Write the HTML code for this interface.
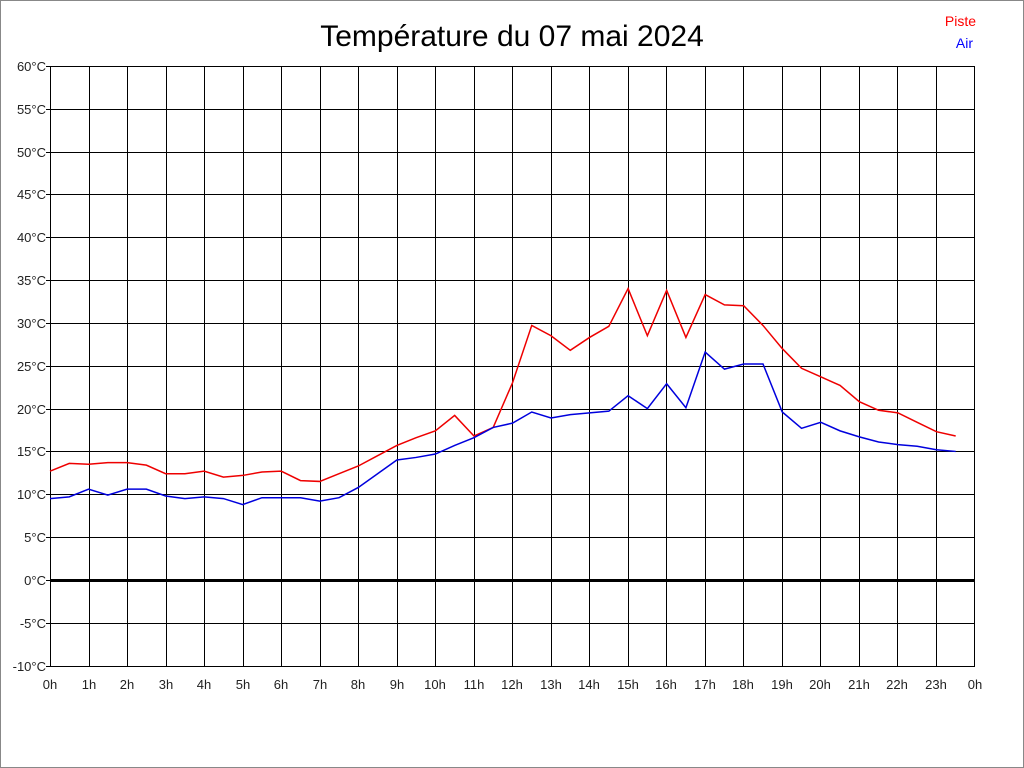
<!DOCTYPE html>
<html><head><meta charset="utf-8"><style>
html,body{margin:0;padding:0;background:#fff}
svg{display:block}
text{font-family:"Liberation Sans",Arial,sans-serif}
</style></head><body>
<svg width="1024" height="768" xmlns="http://www.w3.org/2000/svg">
<rect x="0.5" y="0.5" width="1023" height="767" fill="#fff" stroke="#888"/>
<text x="512" y="46" font-size="30" text-anchor="middle">Température du 07 mai 2024</text>
<text x="976" y="26" font-size="14" fill="#f00" text-anchor="end">Piste</text>
<text x="973" y="48" font-size="14" fill="#00f" text-anchor="end">Air</text>
<g stroke="#000" stroke-width="1" shape-rendering="crispEdges">
<rect x="50.5" y="66.5" width="924" height="600" fill="none"/>
<path d="M50 66.5H975M50 109.5H975M50 152.5H975M50 194.5H975M50 237.5H975M50 280.5H975M50 323.5H975M50 366.5H975M50 409.5H975M50 451.5H975M50 494.5H975M50 537.5H975M50 623.5H975"/>
<path d="M89.5 66V666M127.5 66V666M166.5 66V666M204.5 66V666M243.5 66V666M281.5 66V666M320.5 66V666M358.5 66V666M397.5 66V666M435.5 66V666M474.5 66V666M512.5 66V666M551.5 66V666M589.5 66V666M628.5 66V666M666.5 66V666M705.5 66V666M743.5 66V666M782.5 66V666M820.5 66V666M859.5 66V666M897.5 66V666M936.5 66V666M974.5 66V666"/>
<path d="M46 66.5H50M46 109.5H50M46 152.5H50M46 194.5H50M46 237.5H50M46 280.5H50M46 323.5H50M46 366.5H50M46 409.5H50M46 451.5H50M46 494.5H50M46 537.5H50M46 580.5H50M46 623.5H50M46 666.5H50"/>
</g>
<rect x="50" y="579" width="925" height="3" fill="#000"/>
<g font-size="13" text-anchor="end" fill="#222">
<text x="46" y="71">60°C</text><text x="46" y="114">55°C</text><text x="46" y="157">50°C</text><text x="46" y="199">45°C</text><text x="46" y="242">40°C</text><text x="46" y="285">35°C</text><text x="46" y="328">30°C</text><text x="46" y="371">25°C</text><text x="46" y="414">20°C</text><text x="46" y="456">15°C</text><text x="46" y="499">10°C</text><text x="46" y="542">5°C</text><text x="46" y="585">0°C</text><text x="46" y="628">-5°C</text><text x="46" y="671">-10°C</text>
</g>
<g font-size="13" text-anchor="middle" fill="#222">
<text x="50" y="689">0h</text><text x="89" y="689">1h</text><text x="127" y="689">2h</text><text x="166" y="689">3h</text><text x="204" y="689">4h</text><text x="243" y="689">5h</text><text x="281" y="689">6h</text><text x="320" y="689">7h</text><text x="358" y="689">8h</text><text x="397" y="689">9h</text><text x="435" y="689">10h</text><text x="474" y="689">11h</text><text x="512" y="689">12h</text><text x="551" y="689">13h</text><text x="589" y="689">14h</text><text x="628" y="689">15h</text><text x="666" y="689">16h</text><text x="705" y="689">17h</text><text x="743" y="689">18h</text><text x="782" y="689">19h</text><text x="820" y="689">20h</text><text x="859" y="689">21h</text><text x="897" y="689">22h</text><text x="936" y="689">23h</text><text x="975" y="689">0h</text>
</g>
<g transform="translate(50,580) scale(19.27,-8.571)" fill="none">
<polyline vector-effect="non-scaling-stroke" stroke="#e00" stroke-width="1.5" points="0,12.7 1,13.6 2,13.5 3,13.7 4,13.7 5,13.4 6,12.4 7,12.4 8,12.7 9,12.0 10,12.2 11,12.6 12,12.7 13,11.6 14,11.5 15,12.4 16,13.3 17,14.5 18,15.7 19,16.6 20,17.4 21,19.2 22,16.8 23,17.8 24,23.0 25,29.7 26,28.5 27,26.8 28,28.3 29,29.6 30,34.0 31,28.5 32,33.8 33,28.3 34,33.3 35,32.1 36,32.0 37,29.7 38,27.0 39,24.7 40,23.7 41,22.7 42,20.8 43,19.8 44,19.5 45,18.4 46,17.3 47,16.8"/>
<polyline vector-effect="non-scaling-stroke" stroke="#00d" stroke-width="1.5" points="0,9.5 1,9.7 2,10.6 3,9.9 4,10.6 5,10.6 6,9.8 7,9.5 8,9.7 9,9.5 10,8.8 11,9.6 12,9.6 13,9.6 14,9.2 15,9.6 16,10.8 17,12.4 18,14.0 19,14.3 20,14.7 21,15.7 22,16.6 23,17.8 24,18.3 25,19.6 26,18.9 27,19.3 28,19.5 29,19.7 30,21.5 31,20.0 32,22.9 33,20.1 34,26.6 35,24.6 36,25.2 37,25.2 38,19.6 39,17.7 40,18.4 41,17.4 42,16.7 43,16.1 44,15.8 45,15.6 46,15.2 47,15.0"/>
</g>
</svg>
</body></html>
